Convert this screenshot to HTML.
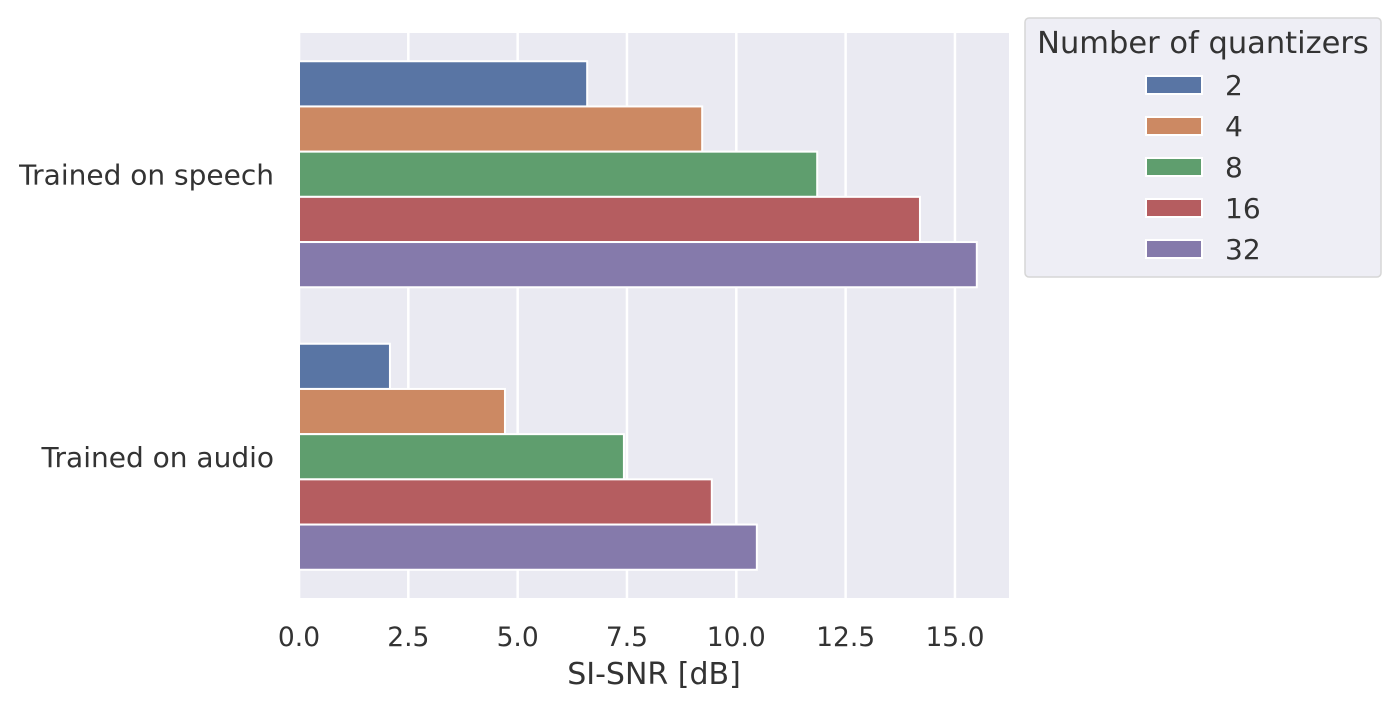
<!DOCTYPE html>
<html><head><meta charset="utf-8"><style>
html,body{margin:0;padding:0;background:#fff;}
svg{display:block;font-family:"DejaVu Sans","Liberation Sans",sans-serif;}
</style></head><body>
<svg id="chart" width="1400" height="709" xmlns="http://www.w3.org/2000/svg">
<rect x="299" y="33" width="710" height="565" fill="#eaeaf2"/>
<g id="grid"></g>
<g id="bars"></g>
<g id="xticks" fill="#333" font-size="26.5" text-anchor="middle"></g>
<g id="yticks" fill="#333" font-size="28" text-anchor="end"></g>
<text x="654" y="684" font-size="30" fill="#333" text-anchor="middle">SI-SNR [dB]</text>
<g>
<rect x="1025" y="18" width="356" height="259" rx="4" fill="#eaeaf2" fill-opacity="0.8" stroke="#d6d6d6" stroke-width="1.5"/>
<text x="1203" y="53" font-size="30.5" fill="#333" text-anchor="middle">Number of quantizers</text>
<g id="legend-items"></g>
</g>
</svg>
<script>
const categories = ["Trained on speech", "Trained on audio"];
const series = ["2", "4", "8", "16", "32"];
const q2 = [6.59, 2.08];
const q4 = [9.22, 4.71];
const q8 = [11.85, 7.43];
const q16 = [14.2, 9.44];
const q32 = [15.5, 10.47];
const xTicks = [0, 2.5, 5, 7.5, 10, 12.5, 15];
const xTickLabels = ["0.0", "2.5", "5.0", "7.5", "10.0", "12.5", "15.0"];
const colors = ["#5975a4", "#cc8963", "#5f9e6e", "#b55d60", "#857aab"];
const values = [q2, q4, q8, q16, q32];

const NS = "http://www.w3.org/2000/svg";
const x0 = 299, xScale = 43.73;
function xs(v){ return x0 + v * xScale; }
const yTop = 33, catH = 282.5;
function yc(i){ return yTop + catH * (i + 0.5); }
const barH = catH * 0.8 / series.length;
function mk(tag, attrs){ const e = document.createElementNS(NS, tag); for (const k in attrs) e.setAttribute(k, attrs[k]); return e; }

const grid = document.getElementById('grid');
xTicks.forEach((t, i) => {
  const l = mk('line', {x1: xs(t), x2: xs(t), y1: 33, y2: 598, stroke: '#fff', 'stroke-width': 2.5});
  
  
  grid.appendChild(l);
  const tx = mk('text', {x: xs(t), y: 646});
  tx.textContent = xTickLabels[i];
  
  
  document.getElementById('xticks').appendChild(tx);
});

const bars = document.getElementById('bars');
categories.forEach((c, ci) => {
  const tx = mk('text', {x: 274, y: yc(ci) + 10});
  tx.textContent = c;
  
  
  document.getElementById('yticks').appendChild(tx);
  series.forEach((s, si) => {
    const y = yc(ci) - catH * 0.4 + si * barH;
    const r = mk('rect', {x: xs(0), y: y, width: xs(values[si][ci]) - xs(0), height: barH, fill: colors[si], stroke: '#fff', 'stroke-width': 2});
    
    
    bars.appendChild(r);
  });
});

const li = document.getElementById('legend-items');
series.forEach((s, si) => {
  const cy = 85 + si * 41;
  const r = mk('rect', {x: 1146, y: cy - 9, width: 56, height: 18, fill: colors[si], stroke: '#fff', 'stroke-width': 2});
  
  
  li.appendChild(r);
  const t = mk('text', {x: 1225, y: cy + 10, 'font-size': 28, fill: '#333'});
  t.textContent = s;
  
  
  li.appendChild(t);
});
</script>
</body></html>
